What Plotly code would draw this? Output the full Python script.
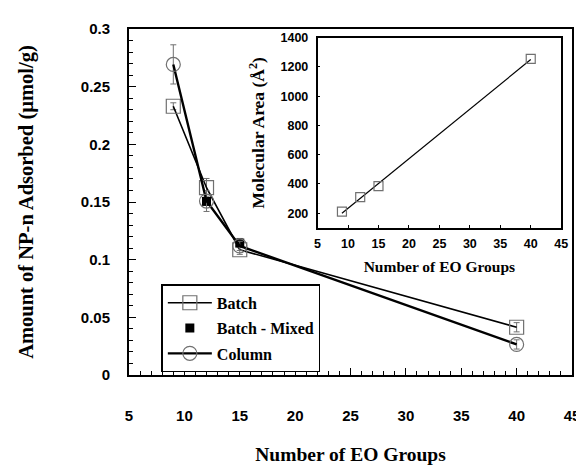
import plotly.graph_objects as go

# Main chart data
eo_groups = [9, 12, 15, 40]
batch_vals = [0.233, 0.1624, 0.1086, 0.0414]
batch_err = [0.003, 0.008, 0.004, 0.004]
mixed_eo = [12, 15]
mixed_vals = [0.1505, 0.1144]
mixed_err = [0.003, 0.004]
column_vals = [0.2693, 0.1508, 0.1119, 0.0265]
column_err = [0.017, 0.009, 0.004, 0.004]

# Inset data
inset_eo = [9, 12, 15, 40]
inset_area = [210, 310, 385, 1255]
fit_eo = [9, 40]
fit_area = [200, 1250]

GREY = "#707070"
serif = "Liberation Serif"
sans = "Liberation Sans"

fig = go.Figure()

fig.add_trace(go.Scatter(
    x=eo_groups, y=batch_vals, name="<b>Batch</b>", mode="lines+markers", legendgroup="a",
    line=dict(color="black", width=1.6),
    marker=dict(symbol="square-open", size=14, color=GREY, line=dict(width=1.2, color=GREY)),
    error_y=dict(type="data", array=batch_err, color=GREY, thickness=1, width=3),
))
fig.add_trace(go.Scatter(
    x=mixed_eo, y=mixed_vals, name="<b>Batch - Mixed</b>", mode="markers", legendgroup="b",
    marker=dict(symbol="square", size=9, color="black"),
    error_y=dict(type="data", array=mixed_err, color=GREY, thickness=1, width=3),
))
fig.add_trace(go.Scatter(
    x=eo_groups, y=column_vals, name="<b>Column</b>", mode="lines+markers", legendgroup="c",
    line=dict(color="black", width=2.4),
    marker=dict(symbol="circle-open", size=14, color=GREY, line=dict(width=1.2, color=GREY)),
    error_y=dict(type="data", array=column_err, color=GREY, thickness=1, width=3),
))

# Inset
fig.add_trace(go.Scatter(
    x=fit_eo, y=fit_area, mode="lines", xaxis="x2", yaxis="y2",
    line=dict(color="black", width=1.2), showlegend=False,
))
fig.add_trace(go.Scatter(
    x=inset_eo, y=inset_area, mode="markers", xaxis="x2", yaxis="y2",
    marker=dict(symbol="square-open", size=9, color=GREY, line=dict(width=1.2, color=GREY)),
    showlegend=False,
))

tickfont_main = dict(family=sans, size=15, color="black", weight=700)
tickfont_inset = dict(family=sans, size=12.5, color="black", weight=700)

fig.update_layout(
    width=584, height=466,
    margin=dict(l=121, r=12, t=16, b=88),
    paper_bgcolor="white", plot_bgcolor="white",
    xaxis=dict(
        range=[5, 45], dtick=5, tick0=5, ticks="inside", ticklen=7, tickwidth=1.2,
        tickcolor="black", showline=True, linecolor="black", linewidth=2, mirror=True,
        showgrid=False, zeroline=False, tickfont=tickfont_main, ticklabelstandoff=26,
        tickprefix="<b>", ticksuffix="</b>",
        minor=dict(ticks="inside", dtick=1, ticklen=4, tickcolor="black", tickwidth=1),
        title=dict(text="<b>Number of EO Groups</b>", font=dict(family=serif, size=19.5, color="black"),
                   standoff=24),
    ),
    yaxis=dict(
        range=[0, 0.3], dtick=0.05, ticks="inside", ticklen=7, tickwidth=1.2,
        tickcolor="black", showline=True, linecolor="black", linewidth=2, mirror=True,
        showgrid=False, zeroline=False, tickfont=tickfont_main, ticklabelstandoff=14,
        tickformat="~g", tickprefix="<b>", ticksuffix="</b>",
        minor=dict(ticks="inside", dtick=0.01, ticklen=4, tickcolor="black", tickwidth=1),
        title=dict(text="<b>Amount of NP-n Adsorbed (µmol/g)</b>", font=dict(family=serif, size=20.5, color="black"),
                   standoff=42),
    ),
    xaxis2=dict(
        domain=[0.4257, 0.9756], anchor="y2", range=[5, 45], dtick=5, tick0=5,
        ticks="inside", ticklen=3, tickcolor="black", showline=True, linecolor="black",
        linewidth=1.5, mirror=True, showgrid=False, zeroline=False, tickfont=tickfont_inset,
        tickprefix="<b>", ticksuffix="</b>", ticklabelstandoff=3,
        title=dict(text="<b>Number of EO Groups</b>", font=dict(family=serif, size=15.5, color="black"),
                   standoff=12),
    ),
    yaxis2=dict(
        domain=[0.4254, 0.975], anchor="x2", range=[100, 1400], dtick=200, tick0=0,
        ticks="inside", ticklen=3, tickcolor="black", showline=True, linecolor="black",
        linewidth=1.5, mirror=True, showgrid=False, zeroline=False, tickfont=tickfont_inset,
        tickprefix="<b>", ticksuffix="</b>", ticklabelstandoff=5,
        title=dict(text="<b>Molecular Area (Å<sup>2</sup>)</b>", font=dict(family=serif, size=17.5, color="black"),
                   standoff=11),
    ),
    legend=dict(
        x=0.073, y=0.262, xanchor="left", yanchor="top",
        bgcolor="white", bordercolor="black", borderwidth=1.5,
        font=dict(family=serif, size=16, color="black"),
        itemwidth=44, traceorder="grouped", tracegroupgap=1.5,
    ),
    showlegend=True,
)

fig.write_html("out.html")
